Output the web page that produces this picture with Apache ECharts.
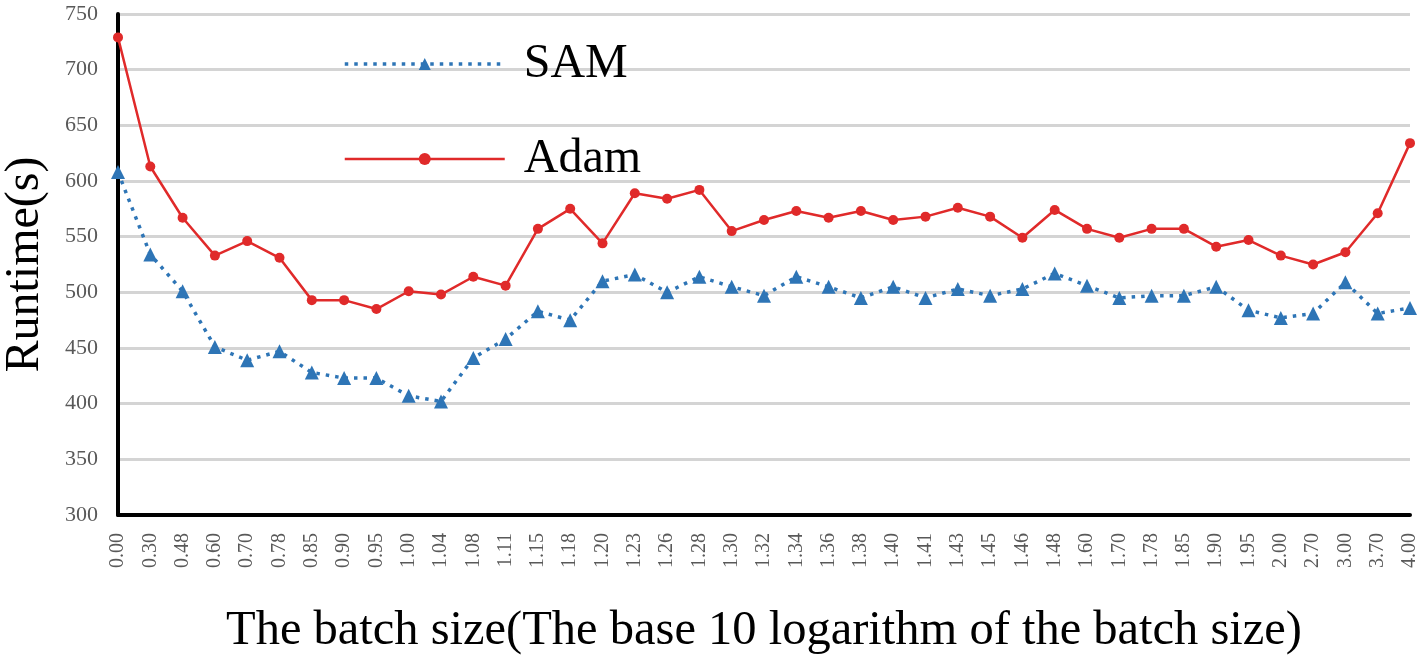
<!DOCTYPE html>
<html>
<head>
<meta charset="utf-8">
<script src="https://cdn.jsdelivr.net/npm/echarts@6/dist/echarts.min.js"></script>
<style>
  html, body { margin: 0; padding: 0; background: #fff; }
  #chart { width: 1418px; height: 659px; }
</style>
</head>
<body>
<div id="chart"></div>
<script>
var batchSizes = ['0.00', '0.30', '0.48', '0.60', '0.70', '0.78', '0.85', '0.90', '0.95', '1.00',
  '1.04', '1.08', '1.11', '1.15', '1.18', '1.20', '1.23', '1.26', '1.28', '1.30',
  '1.32', '1.34', '1.36', '1.38', '1.40', '1.41', '1.43', '1.45', '1.46', '1.48',
  '1.60', '1.70', '1.78', '1.85', '1.90', '1.95', '2.00', '2.70', '3.00', '3.70', '4.00'];

var samRuntime = [608, 534, 501, 451, 439, 447, 428, 423, 423, 407,
  402, 441, 458, 483, 475, 510, 516, 500, 514, 505,
  497, 514, 505, 495, 505, 495, 503, 497, 503, 517,
  506, 495, 497, 497, 505, 484, 477, 481, 509, 481, 486];

var adamRuntime = [729, 613, 567, 533, 546, 531, 493, 493, 485, 501,
  498, 514, 506, 557, 575, 544, 589, 584, 592, 555,
  565, 573, 567, 573, 565, 568, 576, 568, 549, 574,
  557, 549, 557, 557, 541, 547, 533, 525, 536, 571, 634];

var chartDom = document.getElementById('chart');
var myChart = echarts.init(chartDom);
var serif = '"Liberation Serif", "Times New Roman", serif';
var samColor = '#2e75b6';
var adamColor = '#e02a2a';
var option;

option = {
  animation: false,
  backgroundColor: '#fff',
  grid: { left: 118, right: 8, top: 14, bottom: 144, containLabel: false, outerBoundsMode: 'none' },
  legend: {
    orient: 'vertical',
    left: 338,
    top: 35,
    itemWidth: 160,
    itemHeight: 15,
    itemGap: 47,
    textStyle: { fontFamily: serif, fontSize: 48, lineHeight: 48, color: '#000', padding: [0, 0, 0, 14] },
    data: [
      { name: 'SAM', lineStyle: { width: 3.5, type: [3.5, 6], color: samColor } },
      { name: 'Adam', lineStyle: { width: 2.5, color: adamColor } }
    ]
  },
  xAxis: {
    type: 'category',
    boundaryGap: false,
    data: batchSizes,
    name: 'The batch size(The base 10 logarithm of the batch size)',
    nameLocation: 'middle',
    nameGap: 92,
    nameTextStyle: { fontFamily: serif, fontSize: 48.5, color: '#000' },
    axisLine: { lineStyle: { color: '#000', width: 4 } },
    axisTick: { show: false },
    axisLabel: { interval: 0, rotate: 90, margin: 18, fontFamily: serif, fontSize: 20, color: '#595959' }
  },
  yAxis: {
    type: 'value',
    min: 300,
    max: 750,
    interval: 50,
    name: 'Runtime(s)',
    nameLocation: 'middle',
    nameGap: 69,
    nameTextStyle: { fontFamily: serif, fontSize: 48, color: '#000' },
    axisLine: { show: true, lineStyle: { color: '#000', width: 4 } },
    axisTick: { show: false },
    axisLabel: { margin: 20, fontFamily: serif, fontSize: 22, color: '#595959' },
    splitLine: { lineStyle: { color: '#d4d4d4', width: 3 } }
  },
  series: [
    {
      name: 'SAM',
      type: 'line',
      data: samRuntime,
      symbol: 'triangle',
      symbolSize: 14,
      itemStyle: { color: samColor },
      lineStyle: { color: samColor, width: 3.5, type: [3.5, 6] }
    },
    {
      name: 'Adam',
      type: 'line',
      data: adamRuntime,
      symbol: 'circle',
      symbolSize: 10,
      itemStyle: { color: adamColor },
      lineStyle: { color: adamColor, width: 2.5 }
    }
  ]
};

option && myChart.setOption(option);
</script>
</body>
</html>
